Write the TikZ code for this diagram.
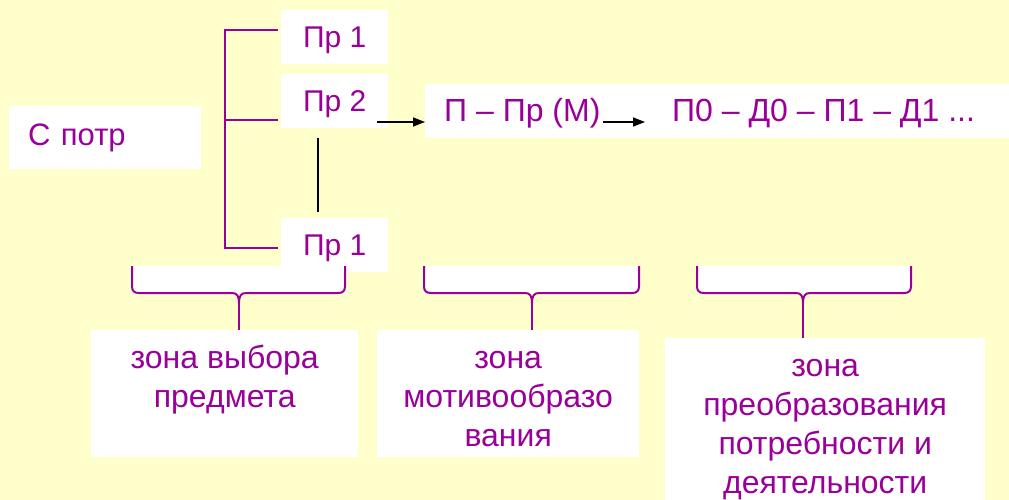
\documentclass[tikz,border=0pt]{standalone}
\usepackage{fontspec}
\setmainfont{Liberation Sans}
\usetikzlibrary{calc}
\usetikzlibrary{positioning}
\usetikzlibrary{arrows.meta}
\definecolor{bgyellow}{RGB}{255,255,204}
\definecolor{txtpurple}{RGB}{153,0,153}

\begin{document}
\begin{tikzpicture}[x=1pt,y=-1pt,
    box/.style={fill=white, inner sep=0pt, anchor=north west},
    lbl/.style={text=txtpurple, inner sep=0pt, font=\fontsize{32}{39}\selectfont},
    prbox/.style={box, lbl, font=\fontsize{30}{39}\selectfont, text depth=0pt, minimum width=107pt, minimum height=54pt},
    tree/.style={draw=txtpurple, line width=2pt},
    brc/.style={draw=txtpurple, line width=2pt},
    arr/.style={draw=black, line width=1.6pt, -{Triangle[length=12pt,width=9pt]}}]
    \useasboundingbox (0,0) rectangle (1009,500);
    \fill[bgyellow] (0,0) rectangle (1009,500);

    % left part
    \node[box, lbl, font=\fontsize{31}{39}\selectfont, minimum height=63pt, text width=154pt, inner xsep=19pt, align=left] (cpotr) at (9,106) {С потр};
    \node[prbox] (p1) at (281,10) {Пр 1};
    \node[prbox] (p2) at (281,74) {Пр 2};
    \node[prbox] (p3) at (281,218) {Пр 1};

    % chain
    \node[box, minimum width=584pt, minimum height=54pt] (chain) at (425,84) {};
    \node[lbl, anchor=base west] (mot) at (444,122) {П – Пр (М)};
    \node[lbl, anchor=base west] (act) at (672,122) {П0 – Д0 – П1 – Д1 ...};

    % zones
    \node[box, minimum width=267pt, minimum height=127pt] (zsel) at (91,330) {};
    \node[box, minimum width=262pt, minimum height=127pt] (zmot) at (377,330) {};
    \node[box, minimum width=320pt, minimum height=170pt] (zconv) at (665,338) {};
    \node[lbl, anchor=north, align=center, below=11pt of zsel.north] (zselt) {\strut зона выбора\\предмета};
    \node[lbl, anchor=north, align=center, below=11pt of zmot.north] (zmott) {\strut зона\\мотивообразо\\вания};
    \node[lbl, anchor=north, align=center, below=11pt of zconv.north] (zconvt) {\strut зона\\преобразования\\потребности и\\деятельности};

    % tree
    \coordinate (b1) at (278,30);
    \coordinate (b2) at (278,120);
    \coordinate (b3) at (278,248);
    \coordinate (top) at (225,30);
    \coordinate (bot) at (225,248);
    \draw[tree] (b1) -- (top) -- (bot) -- (b3);
    \draw[tree] (b2) -- (b2 -| top);

    \coordinate (v1) at (318,138);
    \coordinate (v2) at (318,212);
    \draw[black, line width=1.6pt] (v1) -- (v2);

    % arrows
    \coordinate (a1) at (377,122);
    \draw[arr] (a1) -- (a1 -| chain.west);
    \draw[arr] ([xshift=2pt]mot.base east) -- ([xshift=-27pt]act.base west);

    % braces
    \foreach \xl/\xr/\xt/\zn in {132/345/239/zsel, 424/639/532/zmot, 697/911/803/zconv} {
        \fill[white] (\xl,266) rectangle (\xr,293);
        \draw[brc] (\xl,266) -- (\xl,286) .. controls (\xl,291) and (\xl+2,293) .. (\xl+7,293)
            -- (\xt-7,293) .. controls (\xt-2,293) and (\xt,296) .. (\xt,303)
            .. controls (\xt,296) and (\xt+2,293) .. (\xt+7,293)
            -- (\xr-7,293) .. controls (\xr-2,293) and (\xr,291) .. (\xr,286) -- (\xr,266);
        \coordinate (tip) at (\xt,303);
        \draw[brc] (tip) -- (tip |- \zn.north);
    }
\end{tikzpicture}
\end{document}
